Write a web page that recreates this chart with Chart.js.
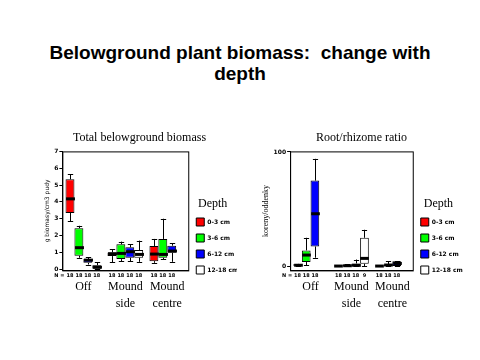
<!DOCTYPE html>
<html lang="en">
<head>
<meta charset="UTF-8">
<title>Belowground plant biomass</title>
<script src="https://cdn.jsdelivr.net/npm/chart.js"></script>
<style>
  body { margin: 0; width: 480px; height: 360px; background: #fff; position: relative; overflow: hidden; }
  #title {
    position: absolute; left: 0; top: 42px; width: 480px; text-align: center;
    font: bold 19px "Liberation Sans", Arial, sans-serif; line-height: 21px; color: #000;
  }
  .box { position: absolute; top: 128px; height: 184px; }
  #left { left: 42px; width: 195px; }
  #right { left: 259px; width: 205px; }
</style>
</head>
<body>

<div id="title">Belowground plant biomass:&nbsp; change with<br>depth</div>
<div class="box" id="left"><canvas id="bioChart"></canvas></div>
<div class="box" id="right"><canvas id="ratioChart"></canvas></div>

<script>
// categories and depth classes
const categories = ['Off', ['Mound', 'side'], ['Mound', 'centre']];
const depths = ['0-3 cm', '3-6 cm', '6-12 cm', '12-18 cm'];
const depthColors = ['#ff0000', '#00ff00', '#0000ff', '#ffffff'];

// total belowground biomass, [depth][category]
const bioLow  = [[2.84, 0.40, 0.38], [0.68, 0.48, 0.58], [0.28, 0.48, 0.44], [0.00, 0.44, null]];
const bioQ1   = [[3.34, 0.78, 0.48], [0.80, 0.60, 0.68], [0.38, 0.68, 0.98], [0.00, 0.68, null]];
const bioMed  = [[4.18, 0.92, 0.90], [1.28, 0.94, 0.88], [0.54, 1.04, 1.08], [0.12, 0.88, null]];
const bioQ3   = [[5.34, 1.00, 1.38], [2.44, 1.48, 1.80], [0.60, 1.30, 1.40], [0.24, 1.14, null]];
const bioHigh = [[5.64, 1.20, 1.80], [2.58, 1.64, 3.00], [0.72, 1.48, 1.54], [0.40, 1.70, null]];
const bioN    = [[18, 18, 18], [18, 18, 18], [18, 18, 18], [18, 18, null]];
const bioTicks = [0, 1, 2, 3, 4, 5, 6, 7];

// root/rhizome ratio, [depth][category]
const ratioLow  = [[0.3, 0.0, 0.0], [1.2, 0.0, 0.0], [7.6, 0.0, 0.0], [null, 0.0, null]];
const ratioQ1   = [[0.5, 0.1, 0.1], [3.8, 0.2, 0.3], [17.4, 0.3, 0.3], [null, 2.3, null]];
const ratioMed  = [[1.0, 0.3, 0.3], [9.9, 0.6, 1.2], [46, 0.9, 2.6], [null, 7, null]];
const ratioQ3   = [[1.8, 0.6, 0.5], [14, 1.2, 1.7], [75, 2.6, 4.6], [null, 25, null]];
const ratioHigh = [[2.2, 0.8, 0.8], [25, 2.0, 4.6], [94, 6.0, 4.6], [null, 32, null]];
const ratioN    = [[18, 18, 18], [18, 18, 18], [18, 18, 18], [null, 9, null]];
const ratioTicks = [0, 100];

// whiskers, medians, N labels and the frame round the plot
const boxPlot = {
  id: 'boxPlot',
  afterDatasetsDraw(chart) {
    const ctx = chart.ctx;
    const y = chart.scales.y;
    const area = chart.chartArea;
    ctx.save();
    ctx.strokeStyle = '#000';
    ctx.fillStyle = '#000';
    ctx.textAlign = 'center';
    ctx.textBaseline = 'top';
    ctx.font = 'bold 5px "DejaVu Sans"';
    chart.data.datasets.forEach((ds, d) => {
      chart.getDatasetMeta(d).data.forEach((bar, i) => {
        if (ds.med[i] == null) return;
        const x = Math.round(bar.x) + 0.5;
        const w = bar.width;
        const yLow = y.getPixelForValue(ds.low[i]);
        const yHigh = y.getPixelForValue(ds.high[i]);
        const yQ1 = y.getPixelForValue(ds.data[i][0]);
        const yQ3 = y.getPixelForValue(ds.data[i][1]);
        const yMed = y.getPixelForValue(ds.med[i]);
        ctx.lineWidth = 1;
        ctx.beginPath();
        ctx.moveTo(x, yQ3); ctx.lineTo(x, yHigh);
        ctx.moveTo(x - w * 0.3, Math.round(yHigh) + 0.5); ctx.lineTo(x + w * 0.3, Math.round(yHigh) + 0.5);
        ctx.moveTo(x, yQ1); ctx.lineTo(x, yLow);
        ctx.moveTo(x - w * 0.3, Math.round(yLow) + 0.5); ctx.lineTo(x + w * 0.3, Math.round(yLow) + 0.5);
        ctx.stroke();
        ctx.lineWidth = 3;
        ctx.beginPath();
        ctx.moveTo(x - w / 2, yMed); ctx.lineTo(x + w / 2, yMed);
        ctx.stroke();
        ctx.fillText(String(ds.n[i]), bar.x, area.bottom + 3);
        if (d === 0 && i === 0) ctx.fillText('N =', bar.x - w * 1.2, area.bottom + 3);
      });
    });
    ctx.lineWidth = 1;
    ctx.strokeRect(area.left + 0.5, area.top + 0.5, area.width, area.height);
    ctx.restore();
  }
};

function makeDatasets(low, q1, med, q3, high, n) {
  return depths.map((label, d) => ({
    label: label,
    data: categories.map((c, i) => med[d][i] == null ? null : [q1[d][i], q3[d][i]]),
    low: low[d], med: med[d], high: high[d], n: n[d],
    backgroundColor: depthColors[d],
    borderColor: '#000',
    borderWidth: 1,
    borderSkipped: false,
    categoryPercentage: 0.85,
    barPercentage: 1
  }));
}

function drawChart(canvasId, title, yTitle, yTitleFont, datasets, tickValues, yMin, yMax) {
  const ctx = document.getElementById(canvasId).getContext('2d');
  new Chart(ctx, {
    type: 'bar',
    data: { labels: categories, datasets: datasets },
    plugins: [boxPlot],
    options: {
      responsive: true,
      maintainAspectRatio: false,
      animation: false,
      plugins: {
        tooltip: { enabled: false },
        title: {
          display: true, text: title, color: '#000',
          font: { family: '"Liberation Serif", serif', size: 12, weight: 'normal' },
          padding: { top: 3, bottom: 6 }
        },
        legend: {
          position: 'right',
          align: 'center',
          title: {
            display: true, text: 'Depth', color: '#000', position: 'center',
            font: { family: '"Liberation Serif", serif', size: 12, lineHeight: 1 },
            padding: { top: 40, bottom: 0 }
          },
          labels: {
            boxWidth: 8, boxHeight: 8, padding: 8, color: '#000',
            font: { family: '"DejaVu Sans"', size: 6, weight: 'bold' }
          }
        }
      },
      scales: {
        x: {
          grid: { display: false },
          border: { color: '#000' },
          ticks: {
            color: '#000', padding: 0, maxRotation: 0, autoSkip: false,
            font: { family: '"Liberation Serif", serif', size: 12, lineHeight: 1.4 }
          }
        },
        y: {
          min: yMin, max: yMax,
          afterBuildTicks: axis => { axis.ticks = tickValues.map(v => ({ value: v })); },
          grid: { drawOnChartArea: false, color: '#000', tickLength: 3 },
          border: { color: '#000' },
          ticks: { color: '#000', padding: 1, font: { family: '"DejaVu Sans"', size: 6, weight: 'bold' } },
          title: { display: true, text: yTitle, color: '#000', font: yTitleFont, padding: 2 }
        }
      }
    }
  });
}

drawChart('bioChart', 'Total belowground biomass', 'g biomasy/cm3 pudy',
  { family: '"DejaVu Sans"', size: 6 },
  makeDatasets(bioLow, bioQ1, bioMed, bioQ3, bioHigh, bioN), bioTicks, -0.07, 7);
drawChart('ratioChart', 'Root/rhizome ratio', 'koreny/oddenky',
  { family: '"Liberation Serif", serif', size: 8 },
  makeDatasets(ratioLow, ratioQ1, ratioMed, ratioQ3, ratioHigh, ratioN), ratioTicks, -3.5, 100.5);
</script>

</body>
</html>
